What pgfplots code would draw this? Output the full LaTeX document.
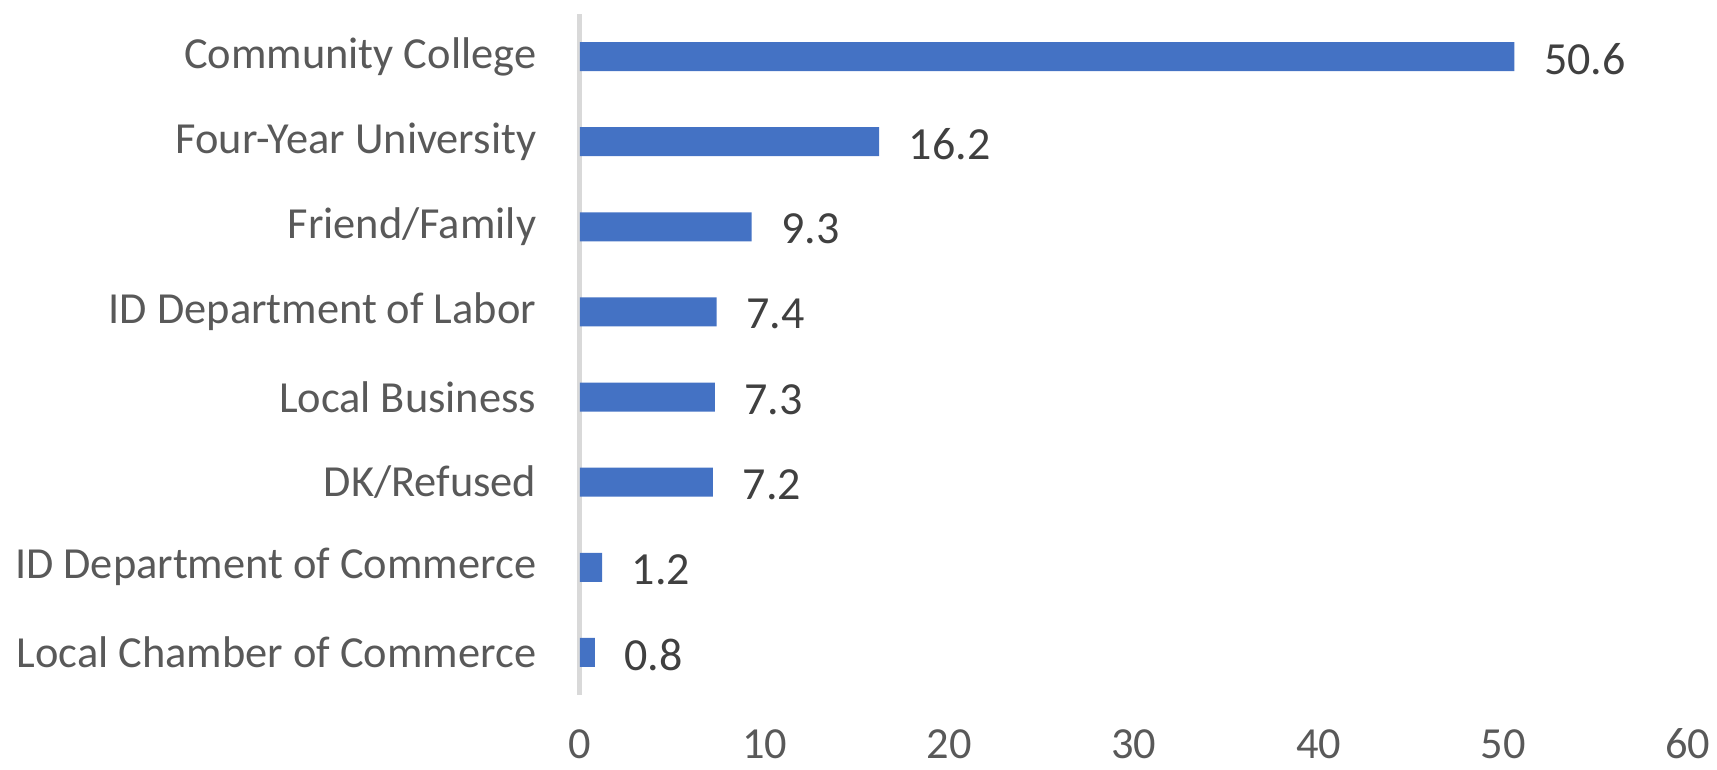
\documentclass[border=0pt]{standalone}
\usepackage{pgfplots}
\pgfplotsset{compat=1.18}
\usepackage{fontspec}
\setmainfont{Carlito}
\definecolor{barblue}{HTML}{4472C4}
\definecolor{ticktext}{HTML}{595959}
\definecolor{labeltext}{HTML}{404040}
\definecolor{axisgray}{HTML}{D9D9D9}
\begin{document}
\begin{tikzpicture}
\useasboundingbox (-145pt,-18.75pt) rectangle (284.25pt,173.75pt);
\begin{axis}[
  at={(0,0)}, anchor=south west,
  width=277pt, height=170.25pt, scale only axis,
  xbar, bar width=7.25pt,
  xmin=0, xmax=60, ymin=-0.5, ymax=7.5,
  xtick={0,10,...,60}, ytick={0,...,7},
  yticklabels={Local Chamber of Commerce, ID Department of Commerce, DK/Refused, Local Business, ID Department of Labor, Friend/Family, Four-Year University, Community College},
  axis lines*=left,
  x axis line style={draw=none},
  y axis line style={-, draw=axisgray, line width=1.25pt},
  major tick length=0pt,
  tick style={draw=none},
  /pgf/number format/assume math mode=true,
  tick label style={font=\fontsize{11.1}{13}\selectfont, text=ticktext},
  xticklabel style={anchor=base, yshift=-16pt, inner sep=0pt},
  yticklabel style={anchor=east, inner sep=0pt, xshift=-10.75pt},
  clip=false,
  point meta=explicit symbolic,
  nodes near coords,
  every node near coord/.append style={anchor=west, inner sep=0pt, xshift=7.25pt, yshift=-0.6pt, font=\fontsize{11.5}{13}\selectfont, text=labeltext},
]
\addplot[fill=barblue, draw=none] coordinates {
  (50.6,7) [50.6]
  (16.2,6) [16.2]
  (9.3,5) [9.3]
  (7.4,4) [7.4]
  (7.3,3) [7.3]
  (7.2,2) [7.2]
  (1.2,1) [1.2]
  (0.8,0) [0.8]
};
\end{axis}
\end{tikzpicture}
\end{document}
